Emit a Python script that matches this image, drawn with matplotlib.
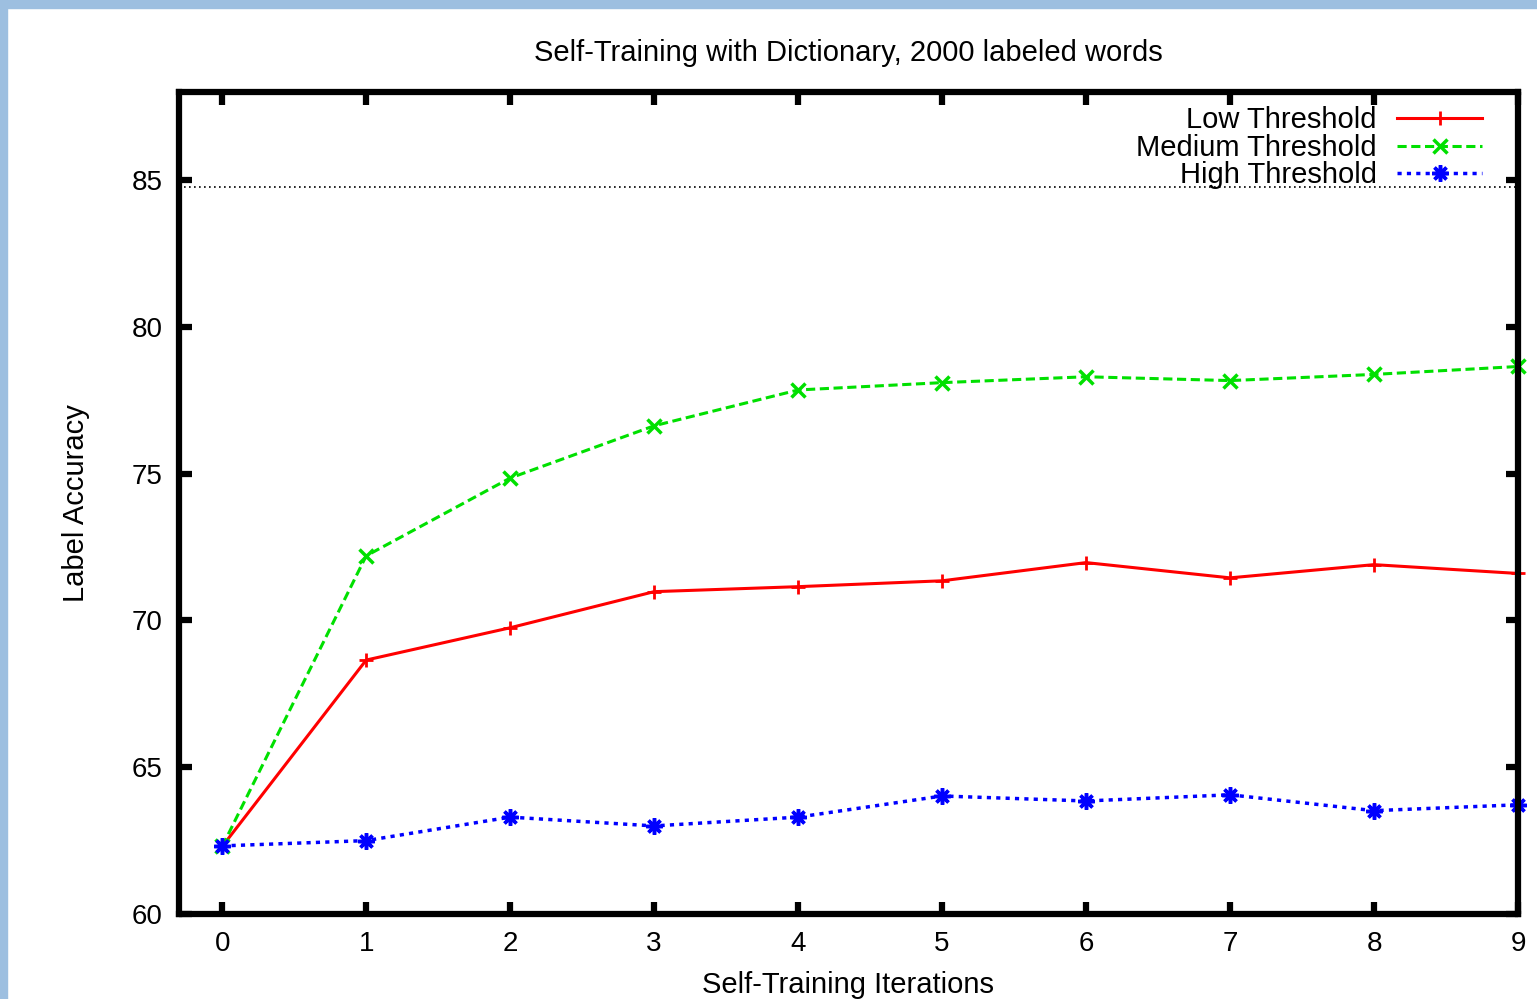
import matplotlib.pyplot as plt
from matplotlib.patches import Rectangle

# data
iterations = [0, 1, 2, 3, 4, 5, 6, 7, 8, 9]
low_threshold = [62.3, 68.65, 69.75, 70.98, 71.15, 71.35, 71.97, 71.45, 71.9, 71.6]
medium_threshold = [62.3, 72.2, 74.85, 76.63, 77.85, 78.1, 78.3, 78.17, 78.38, 78.65]
high_threshold = [62.32, 62.5, 63.3, 63.0, 63.3, 64.02, 63.85, 64.06, 63.52, 63.72]
baseline = 84.75

plt.rcParams['font.family'] = ['Liberation Sans', 'DejaVu Sans']
plt.rcParams['font.size'] = 21

W, H = 1537, 999
fig = plt.figure(figsize=(W / 100, H / 100), dpi=100)
ax = fig.add_axes([179 / W, 1 - 914 / H, (1518 - 179) / W, (914 - 92) / H])

# light blue window border (top and left)
fig.patches.append(Rectangle((0, 1 - 8 / H), 1, 8 / H, transform=fig.transFigure,
                             color='#9dbfe0', zorder=0))
fig.patches.append(Rectangle((0, 0), 7 / W, 1, transform=fig.transFigure,
                             color='#9dbfe0', zorder=0))

ax.axhline(baseline, color='black', linestyle=(0, (1, 2)), linewidth=1.2, zorder=1)

ax.plot(iterations, low_threshold, color='#ff0000', linestyle='-', linewidth=2.2,
        marker='+', markersize=10, markeredgewidth=2, label='Low Threshold', clip_on=False)
ax.plot(iterations, medium_threshold, color='#00e000', linestyle=(0, (3, 1.5)), linewidth=2.2,
        marker='x', markersize=10, markeredgewidth=2.5, label='Medium Threshold', clip_on=False)
ax.plot(iterations, high_threshold, color='#0000ff', linestyle=(0, (1.2, 1.5)), linewidth=2.5,
        marker=(8, 2, 0), markersize=12, markeredgewidth=2.5, label='High Threshold', clip_on=False)

ax.set_xlim(-0.3, 9)
ax.set_ylim(60, 88)
ax.set_xticks(range(0, 10))
ax.set_yticks(range(60, 86, 5))
ax.tick_params(direction='in', length=9, width=4.5, top=True, right=True, pad=12,
               labelsize=20)
for s in ax.spines.values():
    s.set_linewidth(4.5)

ax.set_title('Self-Training with Dictionary, 2000 labeled words', fontsize=21, pad=22)
ax.set_xlabel('Self-Training Iterations', fontsize=21, labelpad=10)
ax.set_ylabel('Label Accuracy', fontsize=21, labelpad=30)

ax.legend(loc='upper right', bbox_to_anchor=(1482 / W, 1 - 106 / H),
          bbox_transform=fig.transFigure, frameon=False, markerfirst=False,
          handlelength=2.9, handletextpad=0.7, labelspacing=-0.01, fontsize=21,
          borderaxespad=0, borderpad=0)

fig.savefig('out.png', dpi=100)
